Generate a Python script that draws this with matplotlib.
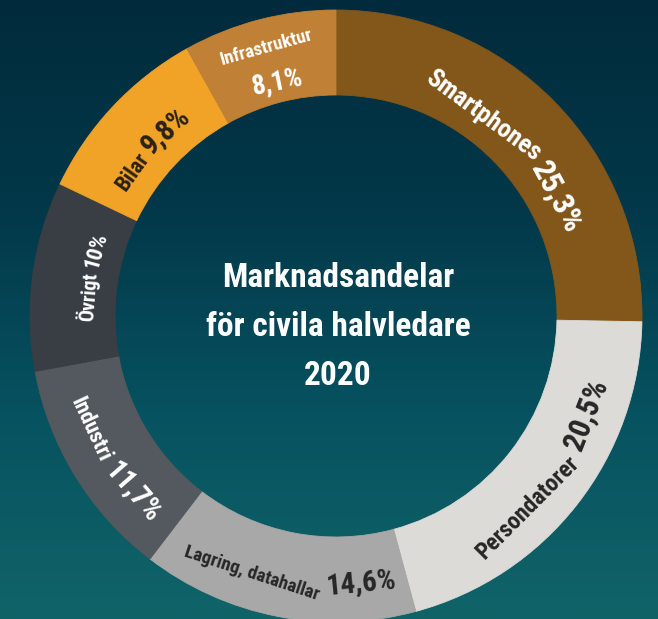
import matplotlib

matplotlib.use("Agg")
import matplotlib.pyplot as plt
import numpy as np
from matplotlib.colors import LinearSegmentedColormap

segments = ["Smartphones", "Persondatorer", "Lagring, datahallar", "Industri", "Övrigt", "Bilar", "Infrastruktur"]
shares = [25.3, 20.5, 14.6, 11.7, 10.0, 9.8, 8.1]
title_lines = ["Marknadsandelar", "för civila halvledare", "2020"]

colors = ["#83561a", "#dcdbd7", "#a8a8a8", "#53595f", "#393e44", "#f1a328", "#c08035"]
text_colors = ["white", "#262626", "#262626", "white", "white", "#2a2117", "white"]
# per label: radius of text middle, name size, value size, angle nudge (deg)
label_style = [
    (253, 18.5, 23, 0.0),
    (267, 17, 22, -1.5),
    (266, 13.5, 21, -1.0),
    (266, 16, 21, -1.5),
    (250, 14.5, 16, 1.5),
    (254, 16, 21, -1.0),
    (0, 13.5, 19.5, 0.0),
]
FONT = ["Roboto Condensed", "DejaVu Sans"]
PX = 100 / 72  # pixels per point
CAP = 0.71

W, H = 658, 619
cx, cy = 336, H - 316
R_OUT, RING = 306, 85

fig = plt.figure(figsize=(W / 100, H / 100), dpi=100)
ax = fig.add_axes([0, 0, 1, 1])

bg = LinearSegmentedColormap.from_list("bg", ["#106468", "#075260", "#023849", "#012b3c"])
ax.imshow(np.linspace(0, 1, 256)[:, None], extent=[0, W, 0, H], origin="lower",
          cmap=bg, aspect="auto", zorder=0)

wedges, _ = ax.pie(shares, colors=colors, radius=R_OUT, center=(cx, cy), startangle=90,
                   counterclock=False, normalize=True,
                   wedgeprops=dict(width=RING, linewidth=0.6))
for w, c in zip(wedges, colors):
    w.set_edgecolor(c)

ax.set_xlim(0, W)
ax.set_ylim(0, H)
ax.set_aspect("equal")
ax.axis("off")

renderer = fig.canvas.get_renderer()


def fmt(v):
    return (f"{v:.0f}" if float(v).is_integer() else f"{v:.1f}".replace(".", ",")) + "%"


def put(s, size, color):
    t = ax.text(0, 0, s, fontsize=size, fontweight="bold", family=FONT, color=color,
                ha="center", va="baseline", rotation_mode="anchor", zorder=5)
    return t, t.get_window_extent(renderer).width


def place(t, theta, r, rot, drop):
    th, ph = np.radians(theta), np.radians(rot)
    up = np.array([-np.sin(ph), np.cos(ph)])
    p = np.array([cx + r * np.sin(th), cy + r * np.cos(th)]) - up * drop
    t.set_position(p)
    t.set_rotation(rot % 360)


def tangent(theta):
    rot = -theta
    if 90 < theta % 360 < 270:
        rot += 180
    return rot


cum = np.cumsum([0] + shares[:-1])
for i, (name, v) in enumerate(zip(segments, shares)):
    r, s_name, s_val, nudge = label_style[i]
    theta = (cum[i] + v / 2) / sum(shares) * 360 + nudge
    col = text_colors[i]
    if r == 0:
        # two-line label in the narrow top slice
        t, _ = put(name, s_name, col)
        place(t, theta, 279, tangent(theta) + 1, s_name * PX * CAP / 2)
        t, _ = put(fmt(v), s_val, col)
        place(t, theta + 0.5, 243, tangent(theta) - 3, s_val * PX * CAP / 2)
        continue
    t1, w1 = put(name, s_name, col)
    t2, w2 = put(fmt(v), s_val, col)
    gap = s_name * 0.3
    total = w1 + gap + w2
    sgn = -1 if 90 < theta < 270 else 1
    drop = s_val * PX * CAP / 2
    for t, off in ((t1, -total / 2 + w1 / 2), (t2, total / 2 - w2 / 2)):
        a = theta + sgn * np.degrees(off / r)
        place(t, a, r, tangent(a), drop)

for k, line in enumerate(title_lines):
    ax.text(cx + 2, H - 287 - k * 49, line, fontsize=24, fontweight="bold", family=FONT,
            color="white", ha="center", va="baseline", zorder=5)

fig.savefig("out.png", dpi=100)
